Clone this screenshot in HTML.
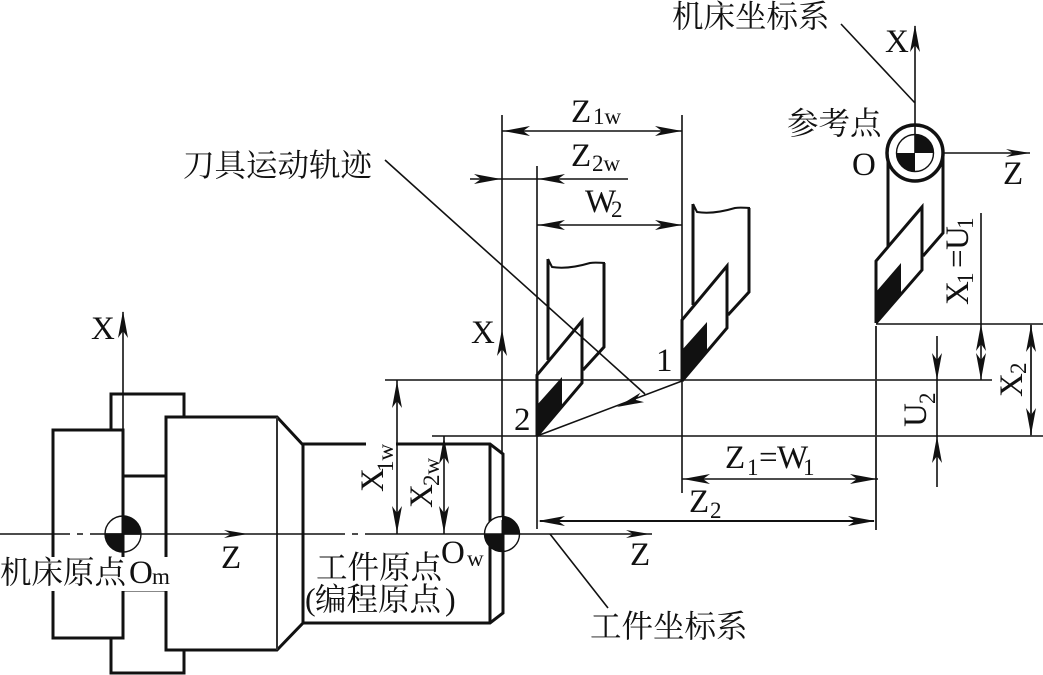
<!DOCTYPE html>
<html><head><meta charset="utf-8"><style>
html,body{margin:0;padding:0;background:#fff}
svg{display:block}
text{font-family:"Liberation Serif","Noto Serif CJK SC",serif;fill:#111;font-size:33px}
.c{font-size:31.5px}
.s{font-size:23px}
.k{fill:none;stroke:#111;stroke-width:3;stroke-linejoin:miter}
.t{fill:none;stroke:#111;stroke-width:1.6}
.g{fill:none;stroke:#333;stroke-width:2}
</style></head><body>
<svg width="1043" height="675" viewBox="0 0 1043 675" xmlns="http://www.w3.org/2000/svg">
<defs>
<polygon id="a" points="0,0 -27,-5 -20,0 -27,5" fill="#111"/>
<polygon id="b" points="0,0 -24,-4 -17,0 -24,4" fill="#111"/>
</defs>

<!-- chuck -->
<path class="k" d="M111 429V394H184V417M53 430H123V638H53ZM166 417H277L303 445V623L277 650H166ZM123 476H166M123 590H166M111 638V673H184V650"/>
<path class="g" d="M277 417V650"/>
<!-- workpiece -->
<path class="k" d="M303 444H366M396 444H490L503 454V613L490 623H303M490 444V623"/>

<!-- centre axis -->
<path class="t" d="M0 534H70M77 534H83M90 534H345M352 534H358M365 534H652"/>
<!-- X axis chuck -->
<path class="t" d="M123 312V430"/>
<use href="#a" transform="translate(123,311) rotate(-90)"/>
<use href="#b" transform="translate(248,534)"/>
<use href="#b" transform="translate(650,534)"/>

<!-- reference lines -->
<path class="t" d="M385 380H992M432 436H1043M876 324H1043"/>
<path class="g" d="M876 326V530"/>
<path class="t" d="M537 166V529M682 115V493M502 115V454"/>
<use href="#a" transform="translate(502,329) rotate(-90)"/>

<!-- tool 2 -->
<g>
<path class="k" d="M548 360V259M604 263V347L583 370M537 436V375L582 321V383L537 436"/>
<path class="t" style="stroke-width:2" d="M548 259L552 267C565 269 580 266 590 263C596 262 600 263 605 263"/>
<polygon points="537,436 537,405 562,377 562,407" fill="#111"/>
</g>
<!-- tool 1 -->
<g transform="translate(145,-55)">
<path class="k" d="M548 360V259M604 263V347L583 370M537 436V375L582 321V383L537 436"/>
<path class="t" style="stroke-width:2" d="M548 259L552 267C565 269 580 266 590 263C596 262 600 263 605 263"/>
<polygon points="537,436 537,405 562,377 562,407" fill="#111"/>
</g>
<!-- tool 0 / turret -->
<path class="k" d="M888 150V247M943 150V233L923 256M876 323V261L922 207V270L876 323"/>
<polygon points="876,323 876,292 901,263 901,293" fill="#111"/>
<circle cx="915" cy="153" r="28" fill="#fff" stroke="#111" stroke-width="3.5"/>
<circle cx="915" cy="153" r="18.5" fill="#fff" stroke="#111" stroke-width="1.4"/>
<path d="M915 153V134.5A18.5 18.5 0 0 1 933.5 153ZM915 153V171.500A18.5 18.5 0 0 1 896.5 153Z" fill="#111"/>

<!-- machine axes -->
<path class="t" d="M915 26V153M943 153H1030M841 24L915 103"/>
<use href="#a" transform="translate(915,25) rotate(-90)"/>
<use href="#b" transform="translate(1030,153)"/>

<!-- chuck origin -->
<circle cx="123" cy="534" r="18" fill="none" stroke="#111" stroke-width="1.4"/>
<path d="M123 534V516A18 18 0 0 1 141 534ZM123 534V552A18 18 0 0 1 105 534Z" fill="#111"/>
<path class="k" d="M123 430V552"/>
<path class="t" d="M105 534H141"/>
<!-- workpiece origin -->
<circle cx="502" cy="534" r="17.500" fill="#fff" stroke="#111" stroke-width="1.4"/>
<path d="M502 534V516.500A17.500 17.500 0 0 1 519.500 534ZM502 534V551.500A17.500 17.500 0 0 1 484.500 534Z" fill="#111"/>
<path class="k" d="M503 520V560"/>
<path class="t" d="M484 534H520"/>

<!-- dimensions -->
<path class="t" d="M502 131H682M470 179H628M537 225H682"/>
<use href="#a" transform="translate(503,131) rotate(180)"/>
<use href="#a" transform="translate(682,131)"/>
<use href="#a" transform="translate(501,179)"/>
<use href="#a" transform="translate(538,179) rotate(180)"/>
<use href="#a" transform="translate(538,225) rotate(180)"/>
<use href="#a" transform="translate(682,225)"/>

<path class="t" d="M385 160L645 394M682 381L537 436M550 534L608 608"/>
<use href="#a" transform="translate(617,407) rotate(159.200)"/>

<path class="t" d="M397 380V534M444 436V534"/>
<use href="#a" transform="translate(397,381) rotate(-90)"/>
<use href="#a" transform="translate(397,533) rotate(90)"/>
<use href="#a" transform="translate(444,437) rotate(-90)"/>
<use href="#a" transform="translate(444,533) rotate(90)"/>

<path class="k" style="stroke-width:2" d="M540 521H874"/>
<use href="#a" transform="translate(538,521) rotate(180)"/>
<use href="#a" transform="translate(875,521)"/>
<path class="t" d="M682 479H878"/>
<use href="#a" transform="translate(877,479)"/>
<use href="#a" transform="translate(683,479) rotate(180)"/>

<path class="t" d="M937 336V487M981 213V380"/>
<path class="g" d="M1031 324V436"/>
<use href="#a" transform="translate(937,380) rotate(90)"/>
<use href="#a" transform="translate(937,436) rotate(-90)"/>
<use href="#a" transform="translate(981,324) rotate(-90)"/>
<use href="#a" transform="translate(981,380) rotate(90)"/>
<use href="#a" transform="translate(1031,325) rotate(-90)"/>
<use href="#a" transform="translate(1031,435) rotate(90)"/>

<!-- white mask for label -->
<rect x="0" y="557" width="172" height="34" fill="#fff"/>

<!-- labels -->
<text class="c" x="672" y="27">机床坐标系</text>
<text class="c" x="183" y="176">刀具运动轨迹</text>
<text class="c" x="787" y="134">参考点</text>
<text class="c" x="590" y="637">工件坐标系</text>
<text class="c" x="0" y="583">机床原点</text>
<text class="c" x="316" y="578">工件原点</text>
<text x="305" y="610" style="font-size:32px">(</text>
<text class="c" x="315" y="610">编程原点</text>
<text x="445" y="610" style="font-size:32px">)</text>

<text x="129" y="583">O</text><text class="s" x="152" y="584">m</text>
<text x="441" y="563">O</text><text class="s" x="467" y="566">w</text>
<text x="91" y="339">X</text>
<text x="221" y="568">Z</text>
<text x="630" y="565">Z</text>
<text x="471" y="343">X</text>
<text x="514" y="430">2</text>
<text x="656" y="371">1</text>
<text x="885" y="52">X</text>
<text x="852" y="175">O</text>
<text x="1003" y="184">Z</text>

<text x="571" y="122">Z</text><text class="s" x="593" y="124">1w</text>
<text x="571" y="166">Z</text><text class="s" x="592" y="171">2w</text>
<text x="585" y="212">W</text><text class="s" x="611" y="217">2</text>
<text x="725" y="468">Z</text><text class="s" x="747" y="475">1</text><text x="759" y="468">=</text><text x="777" y="468">W</text><text class="s" x="803" y="475">1</text>
<text x="689" y="512">Z</text><text class="s" x="710" y="518">2</text>

<g transform="translate(383,492) rotate(-90)"><text x="0" y="0">X</text><text class="s" x="20" y="10">1w</text></g>
<g transform="translate(432,508) rotate(-90)"><text x="0" y="0">X</text><text class="s" x="22" y="7">2w</text></g>
<g transform="translate(968,305) rotate(-90)"><text x="0" y="0">X</text><text class="s" x="21" y="5">1</text><text x="37" y="0">=</text><text x="55" y="0">U</text><text class="s" x="76" y="5">1</text></g>
<g transform="translate(926,427) rotate(-90)"><text x="0" y="0">U</text><text class="s" x="23" y="9">2</text></g>
<g transform="translate(1022,397) rotate(-90)"><text x="0" y="0">X</text><text class="s" x="23" y="4">2</text></g>
</svg>
</body></html>
